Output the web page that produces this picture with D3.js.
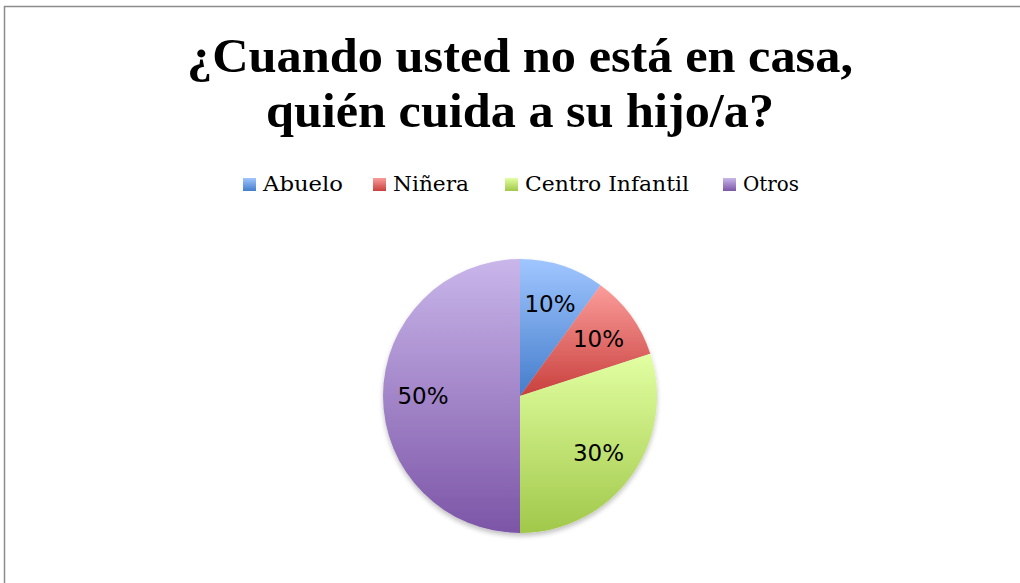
<!DOCTYPE html>
<html><head><meta charset="utf-8">
<script src="https://cdn.jsdelivr.net/npm/d3@7"></script>
<style>body{margin:0;background:#fff}svg{display:block}</style>
</head><body>
<script>
const categories = ["Abuelo", "Niñera", "Centro Infantil", "Otros"];
const values = [10, 10, 30, 50];
const labels = ["10%", "10%", "30%", "50%"];
const titleLines = ["¿Cuando usted no está en casa,", "quién cuida a su hijo/a?"];
const colorsTop = ["#a0c6ff", "#fb9d9b", "#e2ffa2", "#c9b6ea"];
const colorsBottom = ["#447dcb", "#c8403d", "#a1c84a", "#7c55a7"];

const W = 1020, H = 583;
const svg = d3.select("body").append("svg").attr("width", W).attr("height", H);
const defs = svg.append("defs");

svg.append("rect").attr("x", 4.5).attr("y", 6.5).attr("width", W + 10).attr("height", H + 10)
  .attr("fill", "#fff").attr("stroke", "#8c8c8c").attr("stroke-width", 1.5);

categories.forEach((c, i) => {
  const g = defs.append("linearGradient").attr("id", "g" + i).attr("x1", 0).attr("y1", 0).attr("x2", 0).attr("y2", 1);
  g.append("stop").attr("offset", "0%").attr("stop-color", colorsTop[i]);
  g.append("stop").attr("offset", "100%").attr("stop-color", colorsBottom[i]);
});
const f = defs.append("filter").attr("id", "sh").attr("x", "-20%").attr("y", "-20%").attr("width", "140%").attr("height", "140%");
f.append("feGaussianBlur").attr("in", "SourceAlpha").attr("stdDeviation", 2.5).attr("result", "b");
f.append("feOffset").attr("in", "b").attr("dy", 3).attr("result", "o");
f.append("feComponentTransfer").attr("in", "o").attr("result", "o2").append("feFuncA").attr("type", "linear").attr("slope", 0.25);
const fm = f.append("feMerge"); fm.append("feMergeNode").attr("in", "o2"); fm.append("feMergeNode").attr("in", "SourceGraphic");

// title
const titleWidths = [666, 508];
svg.append("g").selectAll("text").data(titleLines).join("text")
  .attr("x", 520).attr("y", (d, i) => 72 + i * 55)
  .attr("text-anchor", "middle")
  .attr("textLength", (d, i) => titleWidths[i]).attr("lengthAdjust", "spacingAndGlyphs")
  .style("font-family", "'Liberation Serif', serif")
  .style("font-weight", "bold").style("font-size", "48px")
  .attr("fill", "#000").text(d => d);

// legend
const legX = [243, 373, 505, 723];
const legW = [80, 76, 164, 56];
const leg = svg.append("g").selectAll("g").data(categories).join("g")
  .attr("transform", (d, i) => `translate(${legX[i]},178)`);
leg.append("rect").attr("width", 13).attr("height", 13).attr("fill", (d, i) => `url(#g${i})`);
leg.append("text").attr("x", 20).attr("y", 13)
  .attr("textLength", (d, i) => legW[i]).attr("lengthAdjust", "spacingAndGlyphs")
  .style("font-family", "'DejaVu Serif', serif").style("font-size", "20px")
  .text(d => d);

// pie
const cx = 520, cy = 396, r = 137;
const pie = d3.pie().sort(null).value(d => d)(values);
const arc = d3.arc().innerRadius(0).outerRadius(r);
const lab = d3.arc().innerRadius(97).outerRadius(97);
const pg = svg.append("g").attr("transform", `translate(${cx},${cy})`);
pg.append("g").attr("filter", "url(#sh)").selectAll("path").data(pie).join("path")
  .attr("d", arc).attr("fill", (d, i) => `url(#g${i})`);
pg.selectAll("text.l").data(pie).join("text").attr("class", "l")
  .attr("x", d => lab.centroid(d)[0]).attr("y", d => lab.centroid(d)[1] + 8)
  .attr("text-anchor", "middle")
  .style("font-family", "'DejaVu Sans', sans-serif").style("font-size", "23px")
  .text((d, i) => labels[i]);
</script>
</body></html>
